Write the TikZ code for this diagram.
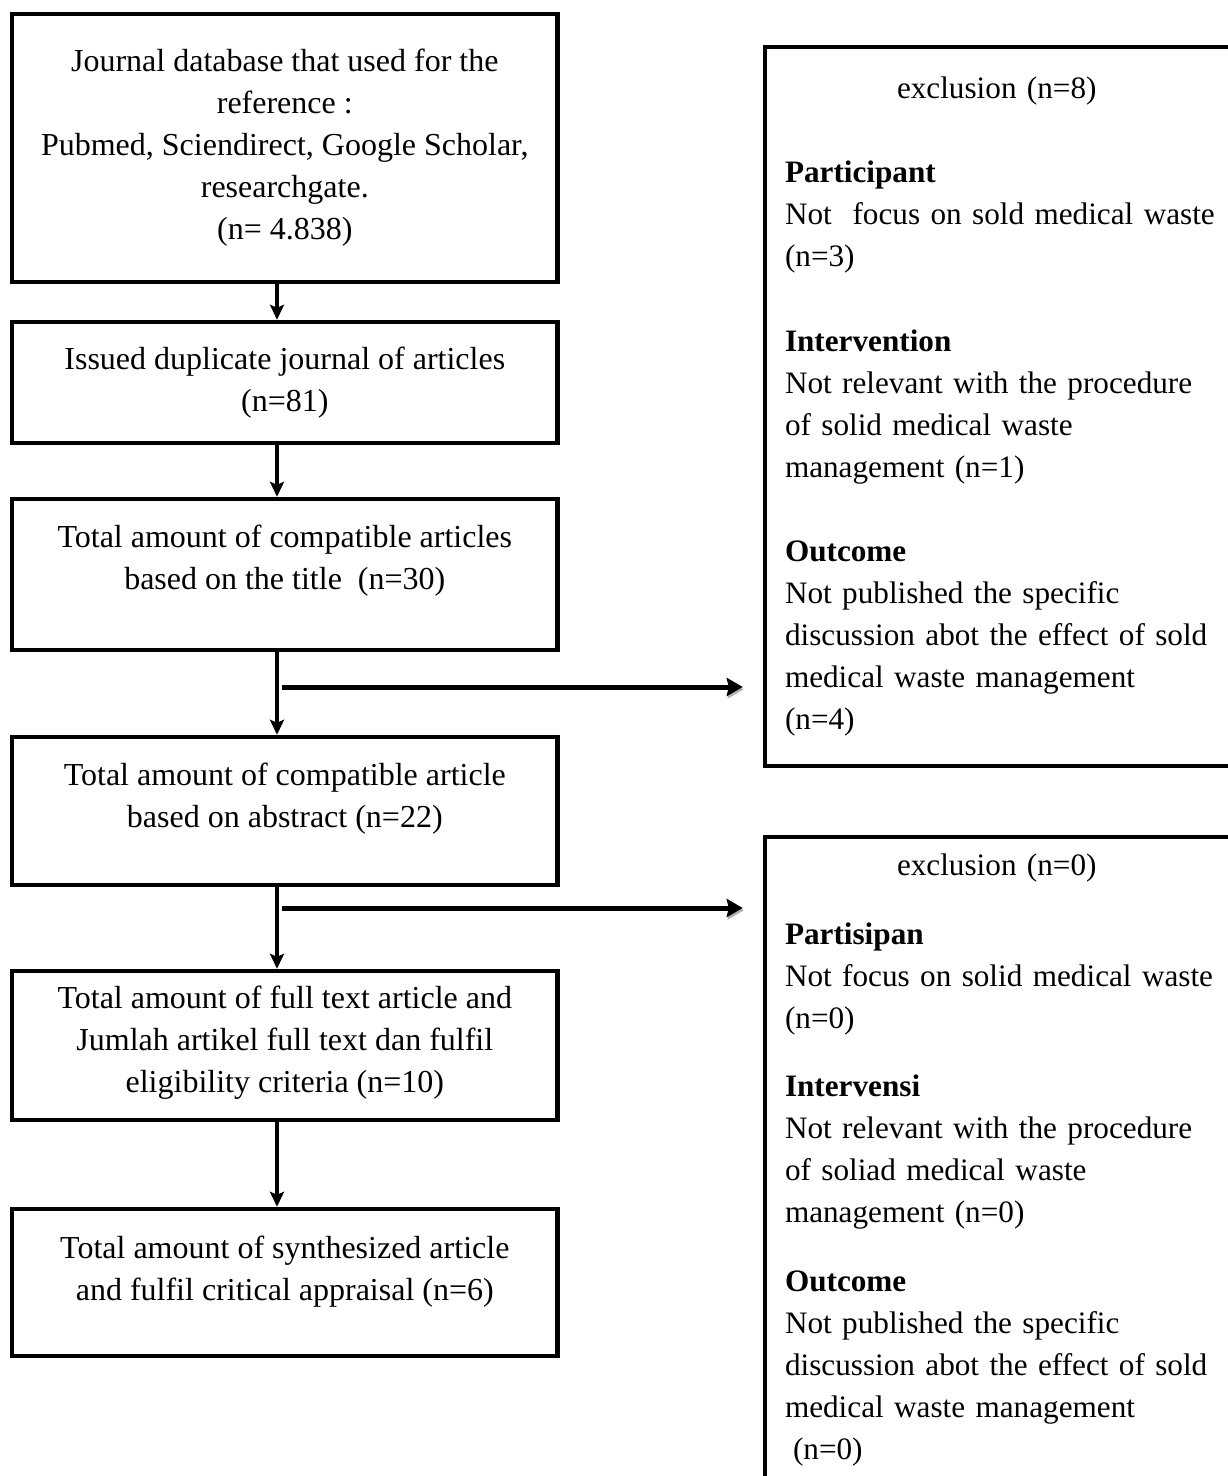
\documentclass[tikz,border=0pt]{standalone}
\usepackage{fontspec}
\setmainfont{Liberation Serif}
\usetikzlibrary{arrows.meta}

\begin{document}
\begin{tikzpicture}[x=0.5pt, y=-0.5pt,
	box/.style={draw, line width=2.2pt, minimum width=272.6pt, inner sep=0pt, align=center, font=\fontsize{16pt}{21pt}\selectfont},
	exbox/.style={draw, line width=2.2pt, text width=250pt, inner xsep=10pt, align=left, font=\fontsize{15.6pt}{21pt}\selectfont},
	flow/.style={line width=1.6pt, -{Stealth[length=7.5pt, width=7pt, inset=1.5pt]}},
	side/.style={line width=2.5pt, -{Stealth[length=8pt, width=9pt, inset=1pt]}, shorten >=10pt,
		preaction={draw=black!30, transform canvas={xshift=0.5pt, yshift=-1.2pt}}}]
	\useasboundingbox (0,0) rectangle (1227,1476);
	\node[box] (db) at (284.8, 148) [minimum height=133.8pt] {Journal database that used for the\\reference :\\Pubmed, Sciendirect, Google Scholar,\\researchgate.\\(n= 4.838)};
	\node[box] (dup) at (284.8, 382.5) [minimum height=60.5pt] {Issued duplicate journal of articles\\(n=81)};
	\node[box] (title) at (284.8, 574.5) [minimum height=75.5pt, text depth=17.5pt] {Total amount of compatible articles\\based on the title\ \ (n=30)};
	\node[box] (abs) at (284.8, 811) [minimum height=74pt, text depth=15.4pt] {Total amount of compatible article\\based on abstract (n=22)};
	\node[box] (full) at (284.8, 1045.5) [minimum height=74.5pt, text depth=6pt] {Total amount of full text article and\\Jumlah artikel full text dan fulfil\\eligibility criteria (n=10)};
	\node[box] (synth) at (284.8, 1282.5) [minimum height=73.5pt, text depth=14.4pt] {Total amount of synthesized article\\and fulfil critical appraisal (n=6)};
		\node[exbox] (ex1) at (1035, 406.5) [minimum height=359.5pt] {\hspace*{56pt}exclusion (n=8)\\[21.2pt]
			\textbf{Participant}\\Not\ \ focus on sold medical waste\\(n=3)\\[21.2pt]
			\textbf{Intervention}\\Not relevant with the procedure\\of solid medical waste\\management (n=1)\\[21.2pt]
			\textbf{Outcome}\\Not published the specific\\discussion abot the effect of sold\\medical waste management\\(n=4)};
		\node[exbox] (ex2) at (1035, 1160) [minimum height=323pt] {\hspace*{56pt}exclusion (n=0)\\[13.5pt]
			\textbf{Partisipan}\\Not focus on solid medical waste\\(n=0)\\[13pt]
			\textbf{Intervensi}\\Not relevant with the procedure\\of soliad medical waste\\management (n=0)\\[13.5pt]
			\textbf{Outcome}\\Not published the specific\\discussion abot the effect of sold\\medical waste management\\\hspace*{4pt}(n=0)};
	\coordinate (ax) at (277, 0);
	\coordinate (s1) at (282, 687);
	\coordinate (s2) at (282, 908);
	\draw[flow] (db.south -| ax) to (dup.north -| ax);
	\draw[flow] (dup.south -| ax) to (title.north -| ax);
	\draw[flow] (title.south -| ax) to (abs.north -| ax);
	\draw[flow] (abs.south -| ax) to (full.north -| ax);
	\draw[flow] (full.south -| ax) to (synth.north -| ax);
	\draw[side] (s1) to (s1 -| ex1.west);
	\draw[side] (s2) to (s2 -| ex2.west);
\end{tikzpicture}
\end{document}
